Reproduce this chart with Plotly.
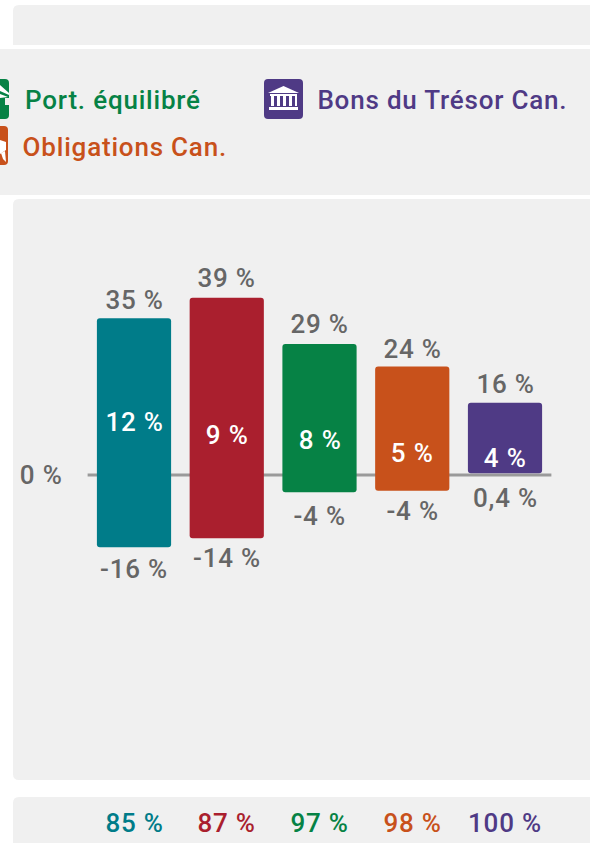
import plotly.graph_objects as go

categories = ["A", "B", "C", "D", "E"]
highs = [34.7, 39.2, 29, 24, 16]
lows = [-16, -14, -3.8, -3.5, 0.4]
averages = [12, 9, 8, 5, 4]
high_labels = ["35 %", "39 %", "29 %", "24 %", "16 %"]
low_labels = ["-16 %", "-14 %", "-4 %", "-4 %", "0,4 %"]
avg_labels = ["12 %", "9 %", "8 %", "5 %", "4 %"]
share_labels = ["85 %", "87 %", "97 %", "98 %", "100 %"]
colors = ["#007C89", "#AA1F2E", "#068245", "#C8511B", "#4F3A85"]
legend_labels = ["Port. équilibré", "Bons du Trésor Can.", "Obligations Can."]

W, H = 590, 843
PANEL = "#F0F0F0"
GREY = "#666666"
FONT = "Roboto"
FS = 26
HIGH_GAP = [18, 20, 20, 18, 19]
LOW_GAP = [22, 20, 24, 20, 25]


def px(x):
    return x / W


def py(y):
    return 1 - y / H


def rrect(x0, y0, x1, y1, tl=0, tr=0, br=0, bl=0):
    return (
        f"M{px(x0+tl)},{py(y0)} L{px(x1-tr)},{py(y0)} "
        f"Q{px(x1)},{py(y0)} {px(x1)},{py(y0+tr)} "
        f"L{px(x1)},{py(y1-br)} Q{px(x1)},{py(y1)} {px(x1-br)},{py(y1)} "
        f"L{px(x0+bl)},{py(y1)} Q{px(x0)},{py(y1)} {px(x0)},{py(y1-bl)} "
        f"L{px(x0)},{py(y0+tl)} Q{px(x0)},{py(y0)} {px(x0+tl)},{py(y0)} Z"
    )


def poly(points):
    return "M" + " L".join(f"{px(x)},{py(y)}" for x, y in points) + " Z"


def shape(path, color):
    return dict(type="path", xref="paper", yref="paper", path=path,
                fillcolor=color, line=dict(width=0), layer="below")


shapes = [
    shape(rrect(13, 5, 590, 45, tl=6), PANEL),
    shape(rrect(0, 49, 590, 195), PANEL),
    shape(rrect(13, 199, 590, 780, tl=6, bl=6), PANEL),
    shape(rrect(13, 797, 590, 843, tl=6), PANEL),
    # Bank icon
    shape(rrect(264, 79, 303, 119, 4, 4, 4, 4), colors[4]),
    shape(poly([(283.5, 86), (299, 93), (268, 93)]), "#FFFFFF"),
    shape(poly([(270, 94), (297, 94), (297, 96), (270, 96)]), "#FFFFFF"),
    shape(poly([(271, 96), (274, 96), (274, 106), (271, 106)]), "#FFFFFF"),
    shape(poly([(277, 96), (280, 96), (280, 106), (277, 106)]), "#FFFFFF"),
    shape(poly([(283, 96), (286, 96), (286, 106), (283, 106)]), "#FFFFFF"),
    shape(poly([(289, 96), (292, 96), (292, 106), (289, 106)]), "#FFFFFF"),
    shape(poly([(295, 96), (297, 96), (297, 106), (295, 106)]), "#FFFFFF"),
    shape(poly([(269, 107), (298, 107), (298, 110), (269, 110)]), "#FFFFFF"),
    # Clipped green icon
    shape(rrect(-10, 79, 9, 119, 0, 4, 4, 0), colors[2]),
    shape(poly([(0, 85), (9, 93), (9, 95), (0, 91)]), "#FFFFFF"),
    shape(poly([(0, 94), (8, 97), (0, 98)]), "#FFFFFF"),
    shape(poly([(5, 98), (9, 98), (9, 105), (5, 105)]), PANEL),
    # Clipped orange icon
    shape(rrect(-10, 126, 8, 165, 0, 4, 4, 0), colors[3]),
    shape(poly([(0, 140), (6, 142), (6, 150), (0, 154)]), "#FFFFFF"),
    shape(poly([(1, 153), (5, 151), (6, 162), (3, 159)]), "#FFFFFF"),
    # Zero line
    dict(type="line", xref="x", yref="y", x0=-0.5, x1=4.5, y0=0, y1=0,
         line=dict(color="#9A9A9A", width=3), layer="below"),
]

fig = go.Figure()
fig.add_bar(
    x=list(range(len(categories))),
    y=[h - l for h, l in zip(highs, lows)],
    base=lows,
    width=0.8,
    marker=dict(color=colors, line=dict(width=0)),
    hoverinfo="skip",
)

annotations = []


def note(x, y, text, color, yshift=0, xref="x", yref="y"):
    annotations.append(dict(
        x=x, y=y, text=text, xref=xref, yref=yref, showarrow=False,
        xanchor="center", yanchor="middle", yshift=yshift,
        font=dict(family=FONT, size=FS, color=color, weight=500),
    ))


for i in range(len(categories)):
    note(i, highs[i], high_labels[i], GREY, yshift=HIGH_GAP[i])
    note(i, lows[i], low_labels[i], GREY, yshift=-LOW_GAP[i])
    note(i, averages[i], avg_labels[i], "#FFFFFF", yshift=-1)
    note(i, py(823), share_labels[i], colors[i], yref="paper")

note(px(41), 0, "0 %", GREY, xref="paper")
note(px(113), py(100), legend_labels[0], colors[2], xref="paper", yref="paper")
note(px(442), py(100), legend_labels[1], colors[4], xref="paper", yref="paper")
note(px(125), py(147), legend_labels[2], colors[3], xref="paper", yref="paper")

ZERO_PX, SCALE = 475, 4.52
X0_PX, STEP = 134, 92.75

fig.update_layout(
    width=W, height=H,
    margin=dict(l=0, r=0, t=0, b=0),
    autosize=False,
    paper_bgcolor="#FFFFFF",
    plot_bgcolor="rgba(0,0,0,0)",
    barcornerradius=3,
    showlegend=False,
    shapes=shapes,
    annotations=annotations,
    xaxis=dict(range=[-X0_PX / STEP, (W - X0_PX) / STEP], visible=False, fixedrange=True),
    yaxis=dict(range=[-(H - ZERO_PX) / SCALE, ZERO_PX / SCALE], visible=False, fixedrange=True),
)
post = """
var s = document.createElement('style');
s.textContent = 'html,body{margin:0;padding:0;overflow:hidden;background:#fff}' +
                '.annotation-text{letter-spacing:0.8px}';
document.head.appendChild(s);
"""
fig.write_html("out.html", config=dict(displayModeBar=False), post_script=post)
